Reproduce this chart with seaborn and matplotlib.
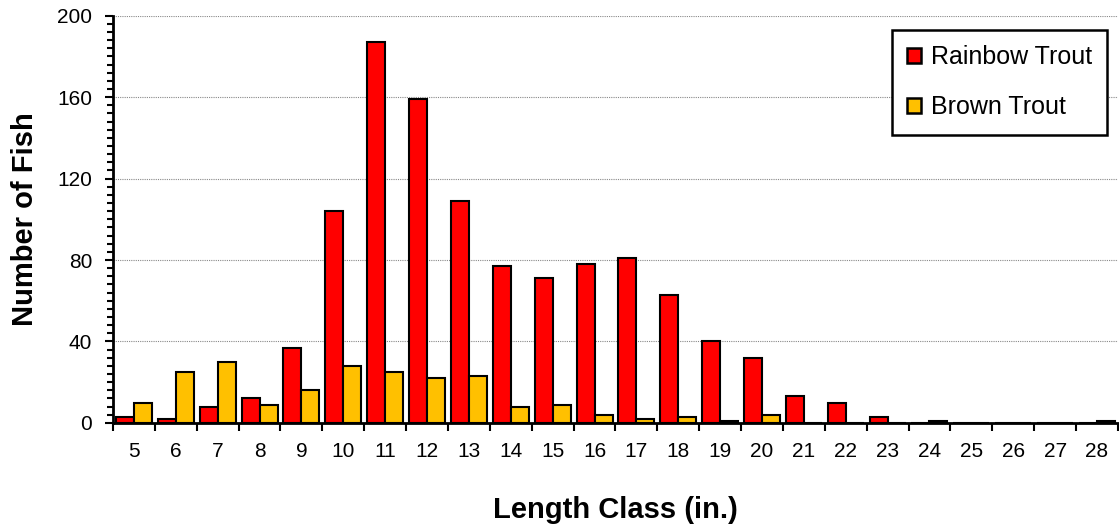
import numpy as np
import pandas as pd
import matplotlib.pyplot as plt
import seaborn as sns
from matplotlib.ticker import MultipleLocator, FixedLocator

lengths = list(range(5, 29))
rainbow = [3, 2, 8, 12, 37, 104, 187, 159, 109, 77, 71, 78, 81, 63, 40, 32, 13, 10, 3, 0, 0, 0, 0, 0]
brown = [10, 25, 30, 9, 16, 28, 25, 22, 23, 8, 9, 4, 2, 3, 1, 4, 0, 0, 0, 1, 0, 0, 0, 1]
species = ["Rainbow Trout", "Brown Trout"]
colors = ["#FF0000", "#FFC000"]

df = pd.DataFrame({
    "length": [str(v) for v in lengths] * 2,
    "count": rainbow + brown,
    "species": [species[0]] * len(lengths) + [species[1]] * len(lengths),
})

sns.set_style("white")
plt.rcParams["font.family"] = ["Liberation Sans", "DejaVu Sans"]
plt.rcParams["text.color"] = "black"
plt.rcParams["axes.labelcolor"] = "black"
plt.rcParams["xtick.color"] = "black"
plt.rcParams["ytick.color"] = "black"

fig = plt.figure(figsize=(11.19, 5.26), dpi=100)
ax = fig.add_axes([0.101, 0.196, 0.898, 0.774])

sns.barplot(data=df, x="length", y="count", hue="species", palette=colors,
            saturation=1, width=0.86, gap=0, edgecolor="black", linewidth=1.5, ax=ax,
            order=[str(v) for v in lengths], hue_order=species)

ax.set_ylim(0, 200)
ax.set_xlim(-0.5, len(lengths) - 0.5)
ax.yaxis.set_major_locator(MultipleLocator(40))
ax.yaxis.set_minor_locator(MultipleLocator(4))
ax.xaxis.set_minor_locator(FixedLocator(np.arange(-0.5, len(lengths), 1)))
ax.tick_params(axis="x", which="major", length=0, labelsize=15, pad=14)
ax.tick_params(axis="x", which="minor", length=6, width=1.5, color="black", direction="out", bottom=True)
ax.tick_params(axis="y", which="major", length=6, width=1.5, color="black", direction="out", labelsize=15, left=True, pad=9)
ax.tick_params(axis="y", which="minor", length=4, width=1.5, color="black", direction="out", left=True)

ax.grid(axis="y", which="major", linestyle=(0, (1, 1)), color="#888888", linewidth=0.8)
ax.set_axisbelow(True)
for s in ["top", "right"]:
    ax.spines[s].set_visible(False)
for s in ["left", "bottom"]:
    ax.spines[s].set_color("black")
    ax.spines[s].set_linewidth(2)

ax.set_xlabel("Length Class (in.)", fontsize=21, fontweight="bold", labelpad=25)
ax.set_ylabel("Number of Fish", fontsize=21, fontweight="bold", labelpad=13)

leg = ax.legend(loc="upper right", bbox_to_anchor=(0.9895, 0.966), fontsize=18,
                frameon=True, fancybox=False, edgecolor="black", framealpha=1,
                handlelength=0.55, handleheight=0.55, handletextpad=0.38,
                labelspacing=1.05, borderpad=0.62, borderaxespad=0)
leg.get_frame().set_linewidth(1.8)
for h in leg.legend_handles:
    h.set_edgecolor("black")
    h.set_linewidth(1.8)

fig.savefig("out.png", dpi=100)
